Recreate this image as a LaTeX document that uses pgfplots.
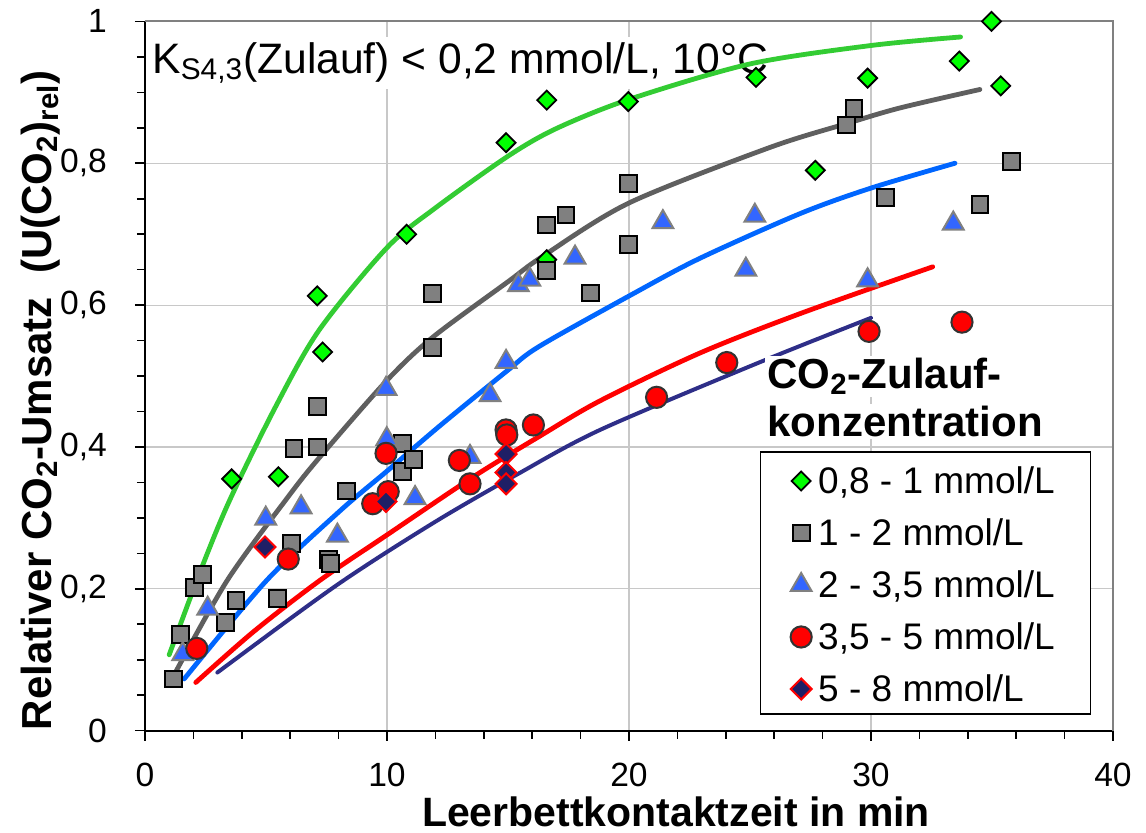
\documentclass[border=0pt]{standalone}
\usepackage{pgfplots}
\pgfplotsset{compat=1.18}
\usepackage{fontspec}
\setmainfont{Liberation Sans}
\definecolor{lgreen}{HTML}{33CC33}
\definecolor{mgreen}{HTML}{00FF00}
\definecolor{lgray}{HTML}{5F5F5F}
\definecolor{mgray}{HTML}{808080}
\definecolor{lblue}{HTML}{0066FF}
\definecolor{mblue}{HTML}{3366FF}
\definecolor{lnavy}{HTML}{2E2E88}
\definecolor{mnavy}{HTML}{1F1F66}
\definecolor{gridgray}{HTML}{C8C8C8}
\definecolor{edgegray}{HTML}{333333}
\begin{document}
\begin{tikzpicture}
\begin{axis}[
  at={(0pt,0pt)}, anchor=south west,
  width=484pt, height=354.65pt, scale only axis,
  xmin=0, xmax=40, ymin=0, ymax=1,
  clip=false,
  axis x line*=bottom, axis y line*=left,
  axis line style={black, line width=1pt},
  xtick={0,10,20,30,40}, ytick={0,0.2,0.4,0.6,0.8,1},
  minor x tick num=4, minor y tick num=3,
  tick align=outside, major tick length=5pt, minor tick length=4pt,
  tick style={black, line width=0.8pt},
  grid=major, major grid style={draw=gridgray, line width=0.6pt},
  /pgf/number format/use comma,
  /pgf/number format/assume math mode=true,
  tick label style={font=\fontsize{16.8}{20}\selectfont},
  xticklabel style={inner sep=0pt, yshift=-11.1pt},
  yticklabel style={xshift=-10.5pt},
  xlabel={Leerbettkontaktzeit in min},
  ylabel={Relativer CO\textsubscript{2}-Umsatz\ \ (U(CO\textsubscript{2})\textsubscript{rel})},
  xlabel style={at={(axis description cs:0.5486,-0.1351)}, anchor=base, inner sep=0pt, font=\bfseries\fontsize{20.5}{24}\selectfont},
  ylabel style={at={(axis description cs:-0.09638,0.466)}, anchor=base, inner sep=0pt, font=\bfseries\fontsize{21}{24}\selectfont},
  legend cell align=left,
  legend style={at={(axis description cs:0.6353,0.394)}, anchor=north west,
    draw=black, line width=0.75pt, fill=white,
    inner xsep=0pt, inner ysep=5pt, column sep=2pt, row sep=9pt,
    font=\fontsize{18.5}{20}\selectfont,
    nodes={inner sep=0pt, text height=15.9pt, text depth=1.1pt}},
  legend image code/.code={\path (0pt,0pt) (26pt,0pt); \draw[#1] plot coordinates {(19.85pt,-1pt)};},
]
% border top/right
\draw[mgray, line width=1pt] (rel axis cs:0,1) -- (rel axis cs:1,1) -- (rel axis cs:1,0);
% annotation
\node[anchor=base west, fill=white, inner sep=2.5pt, font=\fontsize{21.3}{24}\selectfont] at (axis cs:0.083,0.927) {K\textsubscript{S4,3}(Zulauf) < 0,2 mmol/L, 10°C};

% model lines
\addplot[forget plot, smooth, color=lgreen, line width=2.4pt, line cap=round] coordinates {
(1.0,0.107)(2.3,0.226)(3.5,0.325)(5.4,0.457)(7.2,0.565)(10,0.681)(12,0.737)(15,0.810)(17,0.849)(20,0.890)(25,0.940)(30,0.966)(33.7,0.978)};
\addplot[forget plot, smooth, color=lgray, line width=2.4pt, line cap=round] coordinates {
(1.24,0.081)(3.4,0.212)(5.92,0.330)(7.23,0.386)(10,0.494)(11.9,0.555)(15,0.633)(16.4,0.668)(20,0.744)(25.8,0.822)(29,0.856)(31.2,0.878)(34.5,0.904)};
\addplot[forget plot, smooth, color=lblue, line width=2.4pt, line cap=round] coordinates {
(1.62,0.073)(5.03,0.212)(8.06,0.310)(10,0.366)(12.19,0.430)(14.95,0.507)(16.3,0.542)(20.17,0.616)(22.93,0.666)(27.07,0.729)(30,0.765)(33.47,0.800)};
\addplot[forget plot, smooth, color=red, line width=2.4pt, line cap=round] coordinates {
(2.1,0.068)(4.5,0.140)(7.23,0.212)(10,0.276)(13.57,0.358)(16.3,0.415)(18.8,0.465)(22.9,0.532)(27.07,0.588)(32.55,0.654)};
\addplot[forget plot, smooth, color=lnavy, line width=2pt, line cap=round] coordinates {
(2.99,0.082)(6,0.158)(8,0.207)(10,0.252)(12.5,0.305)(15.36,0.361)(18.8,0.424)(25.3,0.518)(30,0.582)};

% legend title
\node[anchor=base west, fill=white, inner sep=1pt, font=\bfseries\fontsize{21}{24}\selectfont] at (axis cs:25.62,0.4827) {CO\textsubscript{2}-Zulauf-};
\node[anchor=base west, fill=white, inner sep=1pt, font=\bfseries\fontsize{21}{24}\selectfont] at (axis cs:25.62,0.4145) {konzentration};

% measured data
\addplot[only marks, mark=square*, mark size=3.36pt, mark options={rotate=45, fill=mgreen, draw=black, line width=0.9pt}] coordinates {
(3.58,0.355)(5.51,0.358)(7.12,0.613)(7.34,0.534)(10.81,0.700)(14.92,0.829)(16.6,0.889)(16.6,0.664)(19.97,0.887)(25.25,0.921)(27.7,0.790)(29.86,0.920)(33.65,0.944)(34.98,1.0)(35.36,0.909)};
\addlegendentry{0,8 - 1 mmol/L\hspace*{18pt}}
\addplot[only marks, mark=square*, mark size=4.2pt, mark options={fill=mgray, draw=black, line width=1pt}] coordinates {
(1.17,0.073)(1.47,0.136)(2.04,0.202)(2.37,0.220)(3.31,0.152)(3.76,0.183)(5.47,0.186)(6.06,0.264)(6.16,0.398)(7.12,0.400)(7.12,0.457)(7.58,0.241)(7.65,0.236)(8.33,0.338)(10.65,0.405)(10.65,0.365)(11.09,0.382)(11.87,0.540)(11.87,0.616)(16.6,0.649)(16.6,0.713)(17.4,0.727)(18.4,0.617)(19.97,0.686)(19.97,0.772)(29.0,0.854)(29.3,0.877)(30.6,0.752)(34.5,0.742)(35.8,0.803)};
\addlegendentry{1 - 2 mmol/L}
\addplot[only marks, mark=triangle*, mark size=6pt, mark options={fill=mblue, draw=mgray, line width=1pt}] coordinates {
(1.56,0.108)(2.59,0.172)(4.99,0.299)(6.45,0.315)(7.95,0.275)(9.96,0.482)(9.99,0.411)(11.16,0.328)(13.43,0.386)(14.26,0.473)(14.92,0.520)(15.43,0.628)(15.9,0.636)(17.77,0.667)(21.4,0.717)(24.83,0.650)(25.2,0.726)(29.86,0.635)(33.4,0.715)};
\addlegendentry{2 - 3,5 mmol/L}
\addplot[only marks, mark=*, mark size=5.3pt, mark options={fill=red, draw=edgegray, line width=1pt}] coordinates {
(2.14,0.116)(5.92,0.242)(9.41,0.320)(9.96,0.391)(10.05,0.337)(12.99,0.381)(13.43,0.348)(14.92,0.424)(14.95,0.417)(16.05,0.431)(21.14,0.470)(24.04,0.519)(29.92,0.563)(33.76,0.576)};
\addlegendentry{3,5 - 5 mmol/L}
\addplot[only marks, mark=square*, mark size=3.7pt, mark options={rotate=45, fill=mnavy, draw=red, line width=1pt}] coordinates {
(4.96,0.259)(9.96,0.323)(14.92,0.390)(14.92,0.364)(14.92,0.348)};
\addlegendentry{5 - 8 mmol/L}
\end{axis}
\pgfresetboundingbox
\path (-72.5pt,-51.15pt) rectangle (500.5pt,365.35pt);
\end{tikzpicture}
\end{document}
